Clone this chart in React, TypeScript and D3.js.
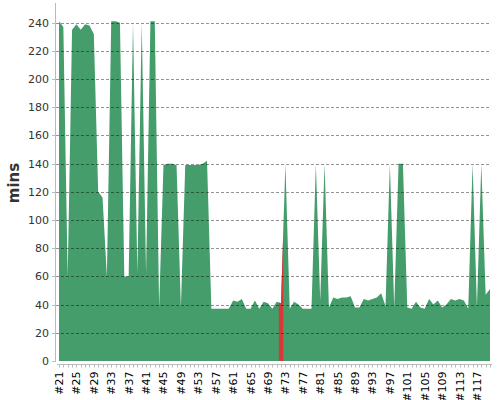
import React from 'react';
import { area, range, scaleLinear, scalePoint } from 'd3';

const builds = range(21, 121).map(n => `#${n}`);
const minutes = [
  241, 237, 60, 235, 239, 235, 239, 238, 232, 120,
  116, 60, 241, 241, 240, 60, 60, 240, 62, 240,
  62, 241, 241, 38, 139, 140, 140, 139, 38, 139,
  139, 139, 139, 140, 142, 37, 37, 37, 37, 37,
  43, 42, 44, 37, 37, 43, 37, 42, 41, 37,
  42, 41, 140, 37, 42, 40, 37, 37, 37, 140,
  43, 140, 38, 45, 44, 45, 45, 46, 38, 38,
  44, 43, 44, 45, 48, 39, 140, 38, 140, 140,
  38, 37, 42, 38, 37, 44, 40, 43, 38, 40,
  44, 43, 44, 43, 37, 140, 38, 140, 47, 51,
];
const highlighted = '#72';
const yTicks = [0, 20, 40, 60, 80, 100, 120, 140, 160, 180, 200, 220, 240];

const width = 500;
const height = 400;
const margin = { top: 3, right: 10, bottom: 39, left: 59 };
const plotRight = 490;
const baseY = 361;

const font = '"DejaVu Sans", Verdana, sans-serif';

function App() {
  const xScale = scalePoint<string>()
    .domain(builds)
    .range([margin.left, plotRight]);

  const yScale = scaleLinear()
    .domain([0, 254])
    .range([baseY, margin.top]);

  const step = xScale.step();

  const areaGen = area<number>()
    .x((_, i) => xScale(builds[i])!)
    .y0(baseY)
    .y1(d => yScale(d));

  const path = areaGen(minutes) || '';
  const hx = xScale(highlighted)!;

  return (
    <svg width={width} height={height} style={{ position: 'absolute', left: 0, top: 0 }}>
      <defs>
        <clipPath id="hl">
          <rect x={hx - step / 2} y={0} width={step} height={baseY} />
        </clipPath>
      </defs>

      <path d={path} fill="#449d6b" />
      <path d={path} fill="#d83838" clipPath="url(#hl)" />

      {/* grid */}
      {yTicks.filter(t => t > 0).map(t => (
        <line
          key={t}
          x1={56}
          x2={plotRight}
          y1={Math.round(yScale(t)) + 0.5}
          y2={Math.round(yScale(t)) + 0.5}
          stroke="#000"
          strokeOpacity={0.42}
          strokeDasharray="3,2"
        />
      ))}

      {/* y axis */}
      <line x1={55.5} x2={55.5} y1={margin.top} y2={baseY + 1} stroke="#bbb" />
      {yTicks.map(t => (
        <g key={t} transform={`translate(0, ${Math.round(yScale(t)) + 0.5})`}>
          <line x1={52} x2={55} stroke="#bbb" />
          <text
            x={49}
            dy="0.35em"
            textAnchor="end"
            fontFamily={font}
            fontSize={11}
            fill="#333"
          >
            {t}
          </text>
        </g>
      ))}
      <text
        transform={`translate(19, 183) rotate(-90)`}
        textAnchor="middle"
        fontFamily={font}
        fontSize={15}
        fontWeight="bold"
        fill="#333"
      >
        mins
      </text>

      {/* x axis */}
      <line x1={57} x2={492} y1={364.5} y2={364.5} stroke="#bbb" />
      {builds.map((b, i) => (
        <g key={b} transform={`translate(${Math.round(xScale(b)!) + 0.5}, 364.5)`}>
          <line y1={0} y2={3} stroke="#bbb" />
          {i % 4 === 0 && (
            <text
              transform="translate(0, 7) rotate(-90)"
              dy="0.35em"
              textAnchor="end"
              fontFamily={font}
              fontSize={11}
              fill="#000"
            >
              {b}
            </text>
          )}
        </g>
      ))}
    </svg>
  );
}

export default App;
